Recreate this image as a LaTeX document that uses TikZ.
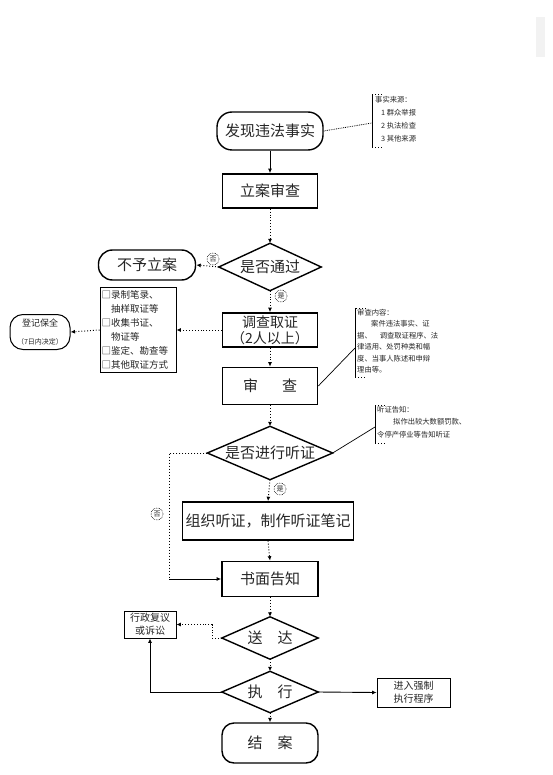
\documentclass[tikz,border=0pt]{standalone}
\usepackage{fontspec}
\newfontfamily\cjk{Noto Sans CJK SC}
\usetikzlibrary{arrows.meta}
\begin{document}
\begin{tikzpicture}[x=1pt,y=-1pt,
 txt/.style={font=\cjk\fontsize{15pt}{18pt}\selectfont, text=black!85},
 mainbox/.style={draw, line width=1.6pt, inner sep=0pt, txt},
 stad/.style={mainbox, line width=1.4pt},
 dia/.style={inner sep=0pt, txt},
 dialine/.style={line width=1.4pt},
 dsh/.style={dotted, line width=1pt},
 arr/.style={-{Latex[length=4.5pt,width=4pt]}, line width=0.9pt},
 lab/.style={circle, draw, densely dotted, line width=0.6pt, inner sep=0pt, minimum size=12pt, font=\cjk\fontsize{7pt}{8pt}\selectfont, text=black!85},
 note/.style={font=\cjk\fontsize{7.3pt}{12pt}\selectfont, align=left, inner sep=0pt, anchor=north west, text=black!85},
 smallbox/.style={draw, line width=0.8pt, inner sep=0pt, align=center, font=\cjk\fontsize{10pt}{13pt}\selectfont, text=black!85},
 thin/.style={line width=0.7pt}
]
\useasboundingbox (0,0) rectangle (553,775);
\fill[white] (0,0) rectangle (553,775);
\fill[black!5] (536,17) rectangle (545,57);

% main column
\node[stad, rounded corners=15pt, minimum width=106pt, minimum height=38pt] (fx) at (270,131) {发现违法事实};
\node[mainbox, minimum width=95pt, minimum height=34pt] (la) at (270,191) {立案审查};
\node[dia, minimum width=102pt, minimum height=47pt] (d1) at (270,267) {是否通过};
\draw[dialine] (d1.north) -- (d1.east) -- (d1.south) -- (d1.west) -- cycle;
\node[stad, rounded corners=14pt, minimum width=97pt, minimum height=30pt] (by) at (147,265) {不予立案};
\node[mainbox, minimum width=95pt, minimum height=34pt, align=center, font=\cjk\fontsize{14pt}{16pt}\selectfont] (dc) at (270,330) {调查取证\\（2人以上）};
\node[mainbox, minimum width=95pt, minimum height=37pt] (sc) at (270,386) {审\hspace{24pt}查};
\node[dia, minimum width=125pt, minimum height=53pt] (d2) at (270,453) {是否进行听证};
\draw[dialine] (d2.north) -- (d2.east) -- (d2.south) -- (d2.west) -- cycle;
\node[mainbox, minimum width=171pt, minimum height=38pt] (zz) at (268,521) {组织听证，制作听证笔记};
\node[mainbox, minimum width=96pt, minimum height=35pt] (sm) at (270,579) {书面告知};
\node[dia, minimum width=96pt, minimum height=42pt] (d3) at (270,638) {送\hspace{15pt}达};
\draw[dialine] (d3.north) -- (d3.east) -- (d3.south) -- (d3.west) -- cycle;
\node[dia, minimum width=96pt, minimum height=41pt] (d4) at (270,692) {执\hspace{15pt}行};
\draw[dialine] (d4.north) -- (d4.east) -- (d4.south) -- (d4.west) -- cycle;
\node[stad, rounded corners=12pt, minimum width=96pt, minimum height=40pt] (ja) at (270,743) {结\hspace{15pt}案};

% side boxes
\node[smallbox, minimum width=76pt, minimum height=85pt, text width=73pt, inner xsep=1.5pt, align=left, font=\cjk\fontsize{9.5pt}{14pt}\selectfont] (lb) at (138,330) {□录制笔录、\\\hspace{9.5pt}抽样取证等\\□收集书证、\\\hspace{9.5pt}物证等\\□鉴定、勘查等\\□其他取证方式};
\node[stad, line width=1pt, rounded corners=13pt, minimum width=60pt, minimum height=35pt, align=center] (dj) at (40,332) {\fontsize{9pt}{11pt}\selectfont 登记保全\\\fontsize{7pt}{10pt}\selectfont （7日内决定）};
\node[smallbox, minimum width=52pt, minimum height=27pt] (xz) at (150,624.5) {行政复议\\或诉讼};
\node[smallbox, minimum width=73pt, minimum height=29pt] (qz) at (413.5,692.5) {进入强制\\执行程序};

% notes
\coordinate (n1) at (372,123);
\draw[dsh] (382,95) -- (372,95);
\draw[thin] (372,95) -- (372,148);
\draw[dsh] (372,148) -- (382,148);
\node[note, font=\cjk\fontsize{7.3pt}{13pt}\selectfont] (t1) at (375,96) {事实来源：\\\hspace{6pt}1 群众举报\\\hspace{6pt}2 执法检查\\\hspace{6pt}3 其他来源};

\coordinate (n2) at (355,348);
\draw[dsh] (366,308) -- (355,308);
\draw[thin] (355,308) -- (355,377);
\draw[dsh] (355,377) -- (366,377);
\node[note, font=\cjk\fontsize{7.3pt}{11.5pt}\selectfont] (t2) at (357,309) {审查内容：\\\hspace{14pt}案件违法事实、证\\据、\hspace{8pt}调查取证程序、法\\律适用、处罚种类和幅\\度、当事人陈述和申辩\\理由等。};

\coordinate (n3) at (375,427);
\draw[dsh] (385,405) -- (375,405);
\draw[thin] (375,405) -- (375,443);
\draw[dsh] (375,443) -- (385,443);
\node[note, font=\cjk\fontsize{7.3pt}{12.5pt}\selectfont] (t3) at (377,406) {听证告知：\\\hspace{16pt}拟作出较大数额罚款、\\令停产停业等告知听证};

\draw[densely dotted, line width=0.8pt] (fx.east) -- (n1);
\draw[thin] (sc.east) -- (n2);
\draw[thin] (d2.east) -- (n3);

% connectors
\draw[arr] (fx.south) -- (la.north);
\draw[arr, dsh] (la.south) -- (d1.north);
\draw[arr, dsh] (d1.west) -- (by.east);
\node[lab] (l1) at (213,259) {否};
\draw[arr, dsh] (d1.south) -- (dc.north);
\node[lab] (l2) at (281,296) {是};
\draw[arr, dsh] (dc.west) -- (lb.east);
\draw[arr, dsh] (lb.west) -- (dj.east);
\draw[arr, dsh] (dc.south) -- (sc.north);
\draw[arr, dsh] (sc.south) -- (d2.north);
\draw[arr, dsh] (d2.south) -- (zz.north);
\node[lab] (l3) at (280,489) {是};
\draw[arr, dsh] (zz.south) -- (sm.north);
\coordinate (c1) at (169,579);
\draw[dsh] (d2.west) -| (c1);
\draw[arr] (c1) -- (sm.west);
\node[lab] (l4) at (157,514) {否};
\draw[arr, dsh] (sm.south) -- (d3.north);
\coordinate (c2) at (212,638);
\draw[arr, dsh] (d3.west) -- (c2) |- (xz.east);
\draw[arr, dsh] (d3.south) -- (d4.north);
\draw[arr] (d4.west) -| (xz.south);
\draw[arr] (d4.east) -- (qz.west);
\draw[arr, dsh] (d4.south) -- (ja.north);
\end{tikzpicture}
\end{document}
